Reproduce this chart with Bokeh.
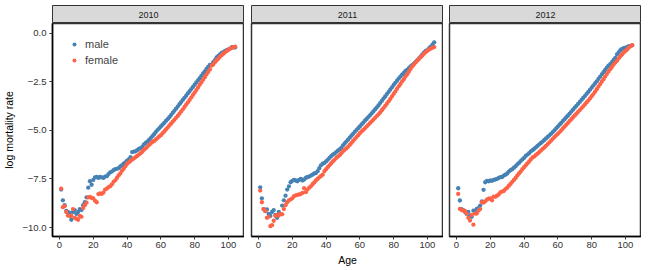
from bokeh.plotting import figure
from bokeh.layouts import row, column
from bokeh.models import Range1d, FixedTicker, CustomJSTickFormatter, Label
from bokeh.embed import file_html
from bokeh.resources import INLINE

years = ["2010", "2011", "2012"]
ages = list(range(1, 105))
x_ticks = [0, 20, 40, 60, 80, 100]
y_ticks = [-10.0, -7.5, -5.0, -2.5, 0.0]

male_2010 = [-8.05, -8.60, -8.85, -9.15, -9.20, -9.25, -9.60, -9.20, -9.10, -9.30, -9.20, -9.05, -9.10, -8.85, -8.70, -8.45,
             -7.95, -7.62, -7.80, -7.55, -7.42, -7.40, -7.45, -7.40, -7.42, -7.45, -7.38, -7.36, -7.25, -7.16,
             -7.12, -7.05, -7.00, -6.98, -6.95, -6.85, -6.80, -6.72, -6.65, -6.56, -6.50, -6.38, -6.12, -6.10, -6.08,
             -6.02, -5.95, -5.92, -5.85, -5.72, -5.65, -5.58, -5.50, -5.40, -5.30, -5.20,
             -5.09, -4.99, -4.90, -4.80, -4.71, -4.62, -4.52, -4.43, -4.33, -4.22, -4.11, -4.00, -3.89, -3.78,
             -3.66, -3.55, -3.44, -3.33, -3.22, -3.10, -2.99, -2.88, -2.77, -2.66, -2.54, -2.43, -2.32, -2.20, -2.08,
             -1.97, -1.85, -1.74, -1.64, -1.62, -1.50, -1.40, -1.25, -1.18, -1.10, -1.02, -0.98, -0.92, -0.88, -0.84, -0.80, -0.72, -0.75, -0.74]
female_2010 = [-8.00, -8.95, -8.90, -9.20, -9.38, -9.40, -9.40, -9.05, -9.50, -9.55, -9.60, -9.40, -9.45, -9.00, -8.85, -8.72,
               -8.45, -8.42, -8.48, -8.50, -8.62, -8.70, -8.28, -8.25, -8.27, -8.20, -8.05, -8.00, -7.92, -7.88,
               -7.78, -7.65, -7.57, -7.45, -7.32, -7.22, -7.08, -6.98, -6.85, -6.72,
               -6.65, -6.58, -6.50, -6.45, -6.38, -6.32, -6.25, -6.18, -6.10, -6.00, -5.93, -5.85, -5.75, -5.68, -5.60, -5.55, -5.48, -5.40, -5.32, -5.25,
               -5.15, -5.06, -4.96, -4.86, -4.76, -4.66, -4.56, -4.46, -4.36, -4.26, -4.15, -4.04, -3.92, -3.80, -3.68, -3.56, -3.44, -3.31, -3.18, -3.06,
               -2.93, -2.80, -2.66, -2.53, -2.40, -2.27, -2.13, -2.00, -1.87, -1.68, -1.62, -1.50, -1.40, -1.32, -1.22, -1.14, -1.06, -0.99, -0.92, -0.86, -0.80, -0.76, -0.72, -0.70]
male_2011 = [-7.93, -8.50, -9.05, -9.15, -9.07, -9.30, -9.40, -9.20, -9.10, -9.35, -9.50, -9.20, -9.30, -8.87, -8.60, -8.36,
             -8.05, -7.88, -7.67, -7.60, -7.55, -7.58, -7.62, -7.55, -7.50, -7.58, -7.53, -7.45, -7.40, -7.38,
             -7.33, -7.28, -7.22, -7.20, -7.10, -6.95, -6.80, -6.72, -6.68, -6.60, -6.52, -6.42, -6.33, -6.25, -6.20,
             -6.12, -6.05, -5.98, -5.90, -5.78, -5.68, -5.58, -5.48, -5.38, -5.28, -5.18,
             -5.08, -4.99, -4.89, -4.80, -4.70, -4.61, -4.51, -4.42, -4.32, -4.23, -4.13, -4.03, -3.93, -3.83,
             -3.72, -3.60, -3.49, -3.37, -3.26, -3.14, -3.03, -2.91, -2.79, -2.67, -2.56, -2.45, -2.34, -2.24, -2.14,
             -2.05, -1.95, -1.90, -1.80, -1.72, -1.65, -1.57, -1.48, -1.40, -1.30, -1.20, -1.10, -1.00, -0.92, -0.88, -0.78, -0.70, -0.60, -0.48]
female_2011 = [-8.10, -8.70, -9.05, -9.15, -9.50, -9.45, -9.93, -9.88, -9.65, -9.40, -9.35, -9.38, -9.30, -9.32, -9.05, -8.85,
               -8.70, -8.60, -8.55, -8.50, -8.38, -8.35, -8.32, -8.30, -8.28, -8.22, -7.98, -8.18, -8.05, -7.95,
               -7.88, -7.77, -7.68, -7.58, -7.50, -7.42, -7.35, -7.28, -7.10, -7.00, -6.90, -6.80, -6.70, -6.60, -6.52,
               -6.42, -6.35, -6.28, -6.18, -6.08, -6.00, -5.93, -5.85, -5.75, -5.65, -5.55, -5.45, -5.35, -5.25, -5.15,
               -5.06, -4.98, -4.90, -4.81, -4.72, -4.63, -4.54, -4.45, -4.36, -4.27, -4.18, -4.08, -3.97, -3.86, -3.75, -3.63, -3.51, -3.39, -3.26, -3.13,
               -3.00, -2.87, -2.74, -2.62, -2.49, -2.37, -2.24, -2.12, -1.99, -1.85, -1.72, -1.62, -1.52, -1.42, -1.33, -1.24, -1.15, -1.06, -0.98, -0.91, -0.85, -0.80, -0.76, -0.72]
male_2012 = [-7.98, -8.61, -9.05, -9.10, -9.20, -9.30, -9.20, -9.40, -9.45, -9.13, -9.13, -9.04, -9.00, -8.87, -8.65, -8.06,
             -7.67, -7.60, -7.62, -7.58, -7.60, -7.55, -7.53, -7.50, -7.45, -7.41, -7.40, -7.33, -7.28, -7.22,
             -7.12, -7.05, -7.00, -6.92, -6.85, -6.75, -6.68, -6.58, -6.50, -6.42, -6.32, -6.25, -6.18, -6.08, -6.02,
             -5.95, -5.88, -5.80, -5.72, -5.65, -5.58, -5.50, -5.42, -5.34, -5.26, -5.18,
             -5.09, -5.00, -4.90, -4.81, -4.71, -4.62, -4.52, -4.43, -4.33, -4.24, -4.14, -4.04, -3.94, -3.84,
             -3.74, -3.64, -3.54, -3.44, -3.34, -3.24, -3.13, -3.03, -2.92, -2.81, -2.70, -2.59, -2.48, -2.36, -2.25,
             -2.13, -2.01, -1.90, -1.78, -1.68, -1.60, -1.50, -1.38, -1.28, -1.10, -1.00, -0.88, -0.82, -0.78, -0.75, -0.72, -0.68, -0.66, -0.63]
female_2012 = [-8.27, -9.04, -9.10, -9.13, -9.15, -9.28, -9.50, -9.64, -9.35, -9.85, -9.28, -9.28, -9.13, -9.05, -8.70, -8.72,
               -8.65, -8.56, -8.52, -8.50, -8.60, -8.41, -8.42, -8.36, -8.30, -8.19, -8.15, -8.12, -8.02, -7.95,
               -7.85, -7.76, -7.65, -7.55, -7.45, -7.33, -7.22, -7.12, -7.00, -6.90, -6.80, -6.70, -6.60, -6.50, -6.40,
               -6.35, -6.27, -6.20, -6.12, -6.04, -5.96, -5.88, -5.80, -5.71, -5.62, -5.53, -5.44, -5.35, -5.26, -5.18,
               -5.09, -5.00, -4.90, -4.81, -4.71, -4.62, -4.52, -4.43, -4.33, -4.24, -4.15, -4.05, -3.96, -3.86, -3.77, -3.67, -3.57, -3.47, -3.36, -3.25,
               -3.14, -3.02, -2.89, -2.76, -2.63, -2.50, -2.37, -2.24, -2.11, -1.98, -1.86, -1.74, -1.62, -1.52, -1.42, -1.30, -1.20, -1.10, -1.00, -0.92, -0.85, -0.75, -0.68, -0.62]

male = [male_2010, male_2011, male_2012]
female = [female_2010, female_2011, female_2012]

MALE_COL = "#4682B4"
FEMALE_COL = "#FF6347"
FONT = "Liberation Sans"

lefts = [52, 7, 6]
FRAME_W = 192
FRAME_H = 213

cols = []
for i, yr in enumerate(years):
    # facet strip
    s = figure(frame_width=FRAME_W, frame_height=18, output_backend="svg", toolbar_location=None,
               x_axis_location=None, y_axis_location=None,
               x_range=Range1d(0, 1), y_range=Range1d(0, 1),
               min_border_left=lefts[i], min_border_right=0,
               min_border_top=5, min_border_bottom=0)
    s.background_fill_color = "#d9d9d9"
    s.outline_line_color = "#333333"
    s.outline_line_width = 1
    s.xgrid.visible = False
    s.ygrid.visible = False
    s.add_layout(Label(x=0.5, y=0.5, text=yr, text_align="center", text_baseline="middle",
                       text_font=FONT, text_font_size="9px", text_color="#1a1a1a"))

    p = figure(frame_width=FRAME_W, frame_height=FRAME_H, output_backend="svg", toolbar_location=None,
               x_range=Range1d(-4.15, 109.5), y_range=Range1d(-10.46, 0.49),
               min_border_left=lefts[i], min_border_right=0,
               min_border_top=0, min_border_bottom=30)
    p.xgrid.visible = False
    p.ygrid.visible = False
    p.outline_line_color = "#333333"
    p.outline_line_width = 1.5
    p.background_fill_color = "white"

    if i == 0:
        p.scatter(ages, male[i], size=4.3, color=MALE_COL, line_width=0, legend_label="male")
        p.scatter(ages, female[i], size=4.3, color=FEMALE_COL, line_width=0, legend_label="female")
    else:
        p.scatter(ages, male[i], size=4.3, color=MALE_COL, line_width=0)
        p.scatter(ages, female[i], size=4.3, color=FEMALE_COL, line_width=0)

    xa = p.xaxis[0]
    xa.ticker = FixedTicker(ticks=x_ticks)
    xa.major_tick_in = 0
    xa.major_tick_out = 3
    xa.minor_tick_line_color = None
    xa.major_tick_line_color = "#333333"
    xa.axis_line_color = "black"
    xa.axis_line_width = 1.5
    xa.major_label_text_font = FONT
    xa.major_label_text_font_size = "9.5px"
    xa.major_label_text_color = "#333333"
    xa.major_label_standoff = 2
    if i == 1:
        xa.axis_label = "Age"
        xa.axis_label_text_font = FONT
        xa.axis_label_text_font_size = "10.5px"
        xa.axis_label_text_font_style = "normal"
        xa.axis_label_text_color = "black"
        xa.axis_label_standoff = 3

    if i == 0:
        ya = p.yaxis[0]
        ya.ticker = FixedTicker(ticks=y_ticks)
        ya.formatter = CustomJSTickFormatter(code="return tick.toFixed(1).replace('-', '\\u2212');")
        ya.major_tick_in = 0
        ya.major_tick_out = 3
        ya.minor_tick_line_color = None
        ya.major_tick_line_color = "#333333"
        ya.axis_line_color = "black"
        ya.axis_line_width = 1.5
        ya.major_label_text_font = FONT
        ya.major_label_text_font_size = "9.5px"
        ya.major_label_text_color = "#333333"
        ya.major_label_standoff = 3
        ya.axis_label = "log mortality rate"
        ya.axis_label_text_font = FONT
        ya.axis_label_text_font_size = "10.5px"
        ya.axis_label_text_font_style = "normal"
        ya.axis_label_text_color = "black"
        ya.axis_label_standoff = 4

        lg = p.legend[0]
        lg.location = (17, 170)
        lg.border_line_color = None
        lg.background_fill_alpha = 0
        lg.label_text_font = FONT
        lg.label_text_font_size = "11px"
        lg.glyph_width = 10
        lg.glyph_height = 10
        lg.label_height = 10
        lg.spacing = 4
        lg.padding = 0
        lg.margin = 0
        lg.label_standoff = 6
    else:
        p.yaxis.visible = False

    cols.append(column(s, p, spacing=0))

layout = row(*cols, spacing=0)
open("out.html", "w").write(file_html(layout, INLINE))
